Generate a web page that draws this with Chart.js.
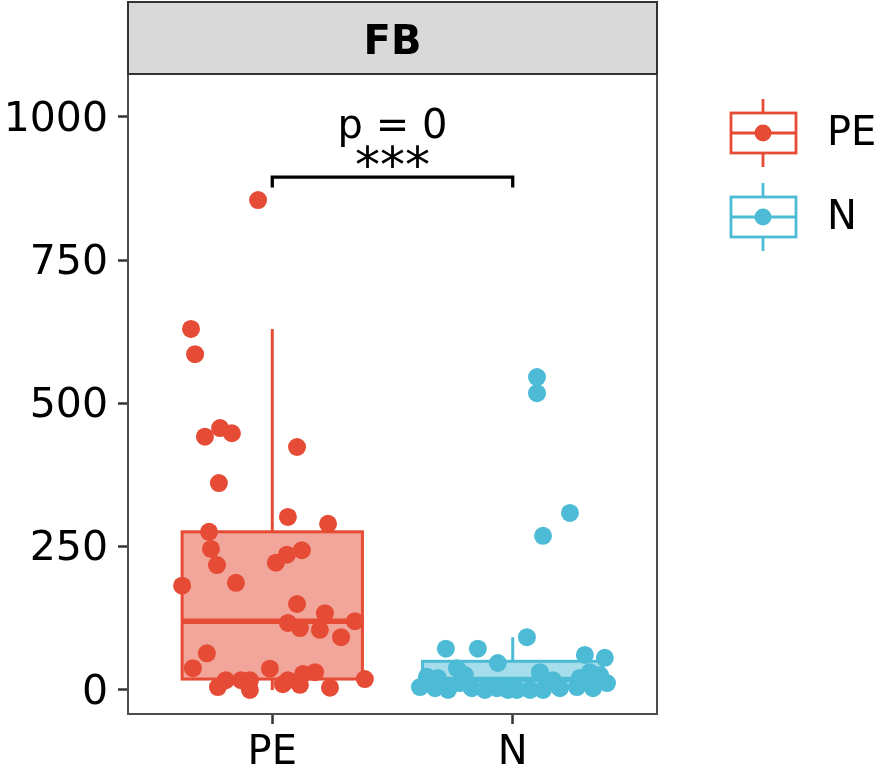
<!DOCTYPE html>
<html><head><meta charset="utf-8">
<script src="https://cdn.jsdelivr.net/npm/chart.js@4/dist/chart.umd.min.js"></script>
<style>html,body{margin:0;padding:0;background:#fff}canvas{display:block}</style>
</head><body>
<canvas id="c" width="880" height="771"></canvas>
<script>
// ---------- data ----------
const categories = ['PE', 'N'];
const panelTitle = 'FB';
const yTickValues = [0, 250, 500, 750, 1000];
const pLabel = 'p = 0';
const sigLabel = '***';

// jitter offsets (relative to category centre) and values
const peJitter = [-0.059,-0.338,-0.321,-0.217,-0.168,-0.280,0.103,-0.222,0.065,0.232,-0.263,-0.255,0.123,0.061,0.015,-0.230,-0.151,-0.375,0.103,0.219,0.344,0.065,0.115,0.198,0.286,-0.272,-0.330,-0.010,-0.193,-0.226,-0.130,-0.093,-0.093,0.044,0.115,0.128,0.178,0.240,0.385,0.065];
const peValues = [855,630,586,457,448,442,424,361,302,290,276,246,244,236,222,218,187,182,150,134,120,117,108,105,92,64,38,37,17,5,17,17,0,10,9,28,31,4,19,17];
const nJitter = [0.101,0.101,0.238,0.126,-0.278,-0.145,-0.062,-0.232,-0.357,-0.386,-0.323,-0.269,-0.220,-0.170,-0.116,-0.066,-0.020,-0.311,-0.199,0.059,0.113,0.167,0.300,0.383,0.321,0.363,0.017,0.072,0.126,0.196,0.267,0.334,0.392,0.279];
const nValues = [546,518,309,269,72,72,47,38,23,5,3,0,12,3,0,3,0,21,26,92,31,17,61,56,31,26,0,0,0,3,5,3,12,21];

// box statistics: [lower whisker, Q1, median, Q3, upper whisker]
const peBox = [0, 19, 120, 276, 630];
const nBox = [0, 4, 18, 50, 92];

// ---------- styles ----------
const lineColors = ['#E64B35', '#4DBBD5'];
const fillColors = ['rgba(230,75,53,0.5)', 'rgba(77,187,213,0.5)'];
const FONT = '"DejaVu Sans", sans-serif';

const boxes = [peBox, nBox];

const boxPlugin = {
  id: 'boxes',
  beforeDatasetsDraw(chart) {
    const {ctx, scales: {x, y}} = chart;
    ctx.save();
    boxes.forEach((b, i) => {
      const cx = x.getPixelForValue(i + 1);
      const xl = x.getPixelForValue(i + 1 - 0.375);
      const xr = x.getPixelForValue(i + 1 + 0.375);
      const yMin = y.getPixelForValue(b[0]);
      const yQ1 = y.getPixelForValue(b[1]);
      const yMed = y.getPixelForValue(b[2]);
      const yQ3 = y.getPixelForValue(b[3]);
      const yMax = y.getPixelForValue(b[4]);
      ctx.strokeStyle = lineColors[i];
      ctx.lineWidth = 3;
      ctx.beginPath();
      ctx.moveTo(cx, yQ3); ctx.lineTo(cx, yMax);
      ctx.moveTo(cx, yQ1); ctx.lineTo(cx, yMin);
      ctx.stroke();
      ctx.fillStyle = fillColors[i];
      ctx.fillRect(xl, yQ3, xr - xl, yQ1 - yQ3);
      ctx.strokeRect(xl, yQ3, xr - xl, yQ1 - yQ3);
      ctx.lineWidth = 5.5;
      ctx.beginPath();
      ctx.moveTo(xl, yMed); ctx.lineTo(xr, yMed);
      ctx.stroke();
    });
    ctx.restore();
  },
  afterDraw(chart) {
    const {ctx, chartArea: ca, scales: {x, y}} = chart;
    ctx.save();
    // panel border
    ctx.strokeStyle = '#4D4D4D';
    ctx.lineWidth = 2;
    ctx.strokeRect(ca.left, ca.top, ca.right - ca.left, ca.bottom - ca.top);
    // strip
    ctx.fillStyle = '#D9D9D9';
    ctx.fillRect(ca.left, 2, ca.right - ca.left, ca.top - 2);
    ctx.strokeStyle = '#333';
    ctx.lineWidth = 2;
    ctx.strokeRect(ca.left, 2, ca.right - ca.left, ca.top - 2);
    ctx.fillStyle = '#000';
    ctx.font = 'bold 40px ' + FONT;
    ctx.textAlign = 'center';
    ctx.textBaseline = 'alphabetic';
    ctx.fillText(panelTitle, (ca.left + ca.right) / 2, 54);
    // significance bracket
    const x1 = x.getPixelForValue(1), x2 = x.getPixelForValue(2);
    const yb = y.getPixelForValue(895), yt = y.getPixelForValue(877);
    ctx.strokeStyle = '#000';
    ctx.lineWidth = 3.3;
    ctx.beginPath();
    ctx.moveTo(x1, yt); ctx.lineTo(x1, yb); ctx.lineTo(x2, yb); ctx.lineTo(x2, yt);
    ctx.stroke();
    ctx.font = '40px ' + FONT;
    ctx.fillText(pLabel, x.getPixelForValue(1.5), y.getPixelForValue(963));
    ctx.font = '50px ' + FONT;
    ctx.fillText(sigLabel, x.getPixelForValue(1.5), y.getPixelForValue(886));
    // legend
    const legendY = [133, 217];
    categories.forEach((c, i) => {
      const cy = legendY[i];
      const lx = 731, rx = 796, mx = 763;
      ctx.strokeStyle = lineColors[i];
      ctx.lineWidth = 2.8;
      ctx.beginPath();
      ctx.moveTo(mx, cy - 34); ctx.lineTo(mx, cy - 20);
      ctx.moveTo(mx, cy + 20); ctx.lineTo(mx, cy + 34);
      ctx.stroke();
      ctx.strokeRect(lx, cy - 20, rx - lx, 40);
      ctx.beginPath();
      ctx.moveTo(lx, cy); ctx.lineTo(rx, cy);
      ctx.stroke();
      ctx.fillStyle = lineColors[i];
      ctx.beginPath();
      ctx.arc(mx, cy, 8.5, 0, Math.PI * 2);
      ctx.fill();
      ctx.fillStyle = '#000';
      ctx.font = '40px ' + FONT;
      ctx.textAlign = 'left';
      ctx.textBaseline = 'middle';
      ctx.fillText(c, 827, cy + 2);
    });
    ctx.restore();
  }
};

const datasets = [
  {label: categories[0], data: peValues.map((v, k) => ({x: 1 + peJitter[k], y: v})),
   backgroundColor: lineColors[0], borderColor: lineColors[0], pointRadius: 9, borderWidth: 0},
  {label: categories[1], data: nValues.map((v, k) => ({x: 2 + nJitter[k], y: v})),
   backgroundColor: lineColors[1], borderColor: lineColors[1], pointRadius: 9, borderWidth: 0}
];

new Chart(document.getElementById('c'), {
  type: 'scatter',
  data: {datasets},
  options: {
    responsive: false,
    devicePixelRatio: 1,
    animation: false,
    layout: {padding: {top: 74, right: 223, left: 0, bottom: 0}},
    plugins: {legend: {display: false}, tooltip: {enabled: false}},
    scales: {
      x: {
        type: 'linear', min: 0.4, max: 2.6,
        afterBuildTicks: s => { s.ticks = categories.map((c, i) => ({value: i + 1})); },
        afterFit: s => { s.height = 57; },
        ticks: {callback: v => categories[v - 1], font: {family: FONT, size: 40}, color: '#000', padding: 6, maxRotation: 0, autoSkip: false},
        grid: {drawOnChartArea: false, drawTicks: true, tickLength: 10, tickWidth: 2.5, tickColor: '#333'},
        border: {display: false}
      },
      y: {
        type: 'linear', min: -42, max: 1075,
        afterBuildTicks: s => { s.ticks = yTickValues.map(v => ({value: v})); },
        afterFit: s => { s.width = 128; },
        ticks: {callback: v => String(v), font: {family: FONT, size: 41}, color: '#000', padding: 10, labelOffset: 3, autoSkip: false},
        grid: {drawOnChartArea: false, drawTicks: true, tickLength: 10, tickWidth: 2.5, tickColor: '#333'},
        border: {display: false}
      }
    }
  },
  plugins: [boxPlugin]
});
</script>
</body></html>
